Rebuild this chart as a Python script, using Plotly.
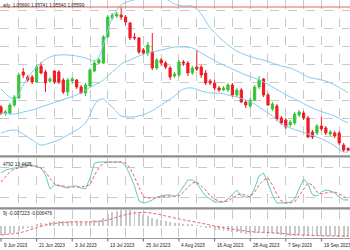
import plotly.graph_objects as go
import pandas as pd

# ---------------- data ----------------
dates = pd.bdate_range("2023-06-09", "2023-09-27")
bar_idx = list(range(len(dates)))

open_ = [1.0776,1.0746,1.0746,1.0786,1.0821,1.0951,1.0926,1.0926,1.0901,1.0981,
1.0951,1.0906,1.0956,1.0951,1.0911,1.0851,1.0906,1.0911,1.0876,1.0846,
1.0881,1.0956,1.0996,1.0996,1.1126,1.1221,1.1231,1.1236,1.1226,1.1196,
1.1126,1.1121,1.1061,1.1046,1.1051,1.0971,1.1011,1.0996,1.0971,1.0931,
1.0936,1.1001,1.0996,1.0946,1.0976,1.0976,1.0946,1.0906,1.0896,1.0871,
1.0861,1.0861,1.0886,1.0836,1.0861,1.0801,1.0781,1.0811,1.0876,1.0916,
1.0836,1.0766,1.0781,1.0721,1.0711,1.0686,1.0696,1.0736,1.0746,1.0721,
1.0651,1.0646,1.0681,1.0671,1.0641,1.0646,1.0646,1.0586,1.0569]
high = [1.0786,1.0761,1.0796,1.0836,1.0946,1.0971,1.0936,1.0936,1.0986,1.1001,
1.0961,1.0926,1.0961,1.0961,1.0921,1.0921,1.0926,1.0916,1.0886,1.0896,
1.0971,1.1011,1.1021,1.1136,1.1236,1.1246,1.1251,1.1276,1.1236,1.1201,
1.1146,1.1126,1.1071,1.1101,1.1146,1.1021,1.1021,1.1006,1.0981,1.0951,
1.1011,1.1011,1.1006,1.0981,1.1061,1.0986,1.0961,1.0916,1.0911,1.0881,
1.0881,1.0896,1.0896,1.0871,1.0871,1.0811,1.0821,1.0886,1.0931,1.0921,
1.0846,1.0801,1.0791,1.0731,1.0721,1.0711,1.0751,1.0761,1.0756,1.0731,
1.0661,1.0691,1.0726,1.0681,1.0661,1.0656,1.0656,1.0596,1.0574]
low = [1.0736,1.0731,1.0736,1.0776,1.0816,1.0921,1.0901,1.0891,1.0896,1.0941,
1.0851,1.0896,1.0891,1.0891,1.0841,1.0831,1.0891,1.0866,1.0841,1.0831,
1.0876,1.0951,1.0991,1.0991,1.1121,1.1211,1.1221,1.1211,1.1186,1.1111,
1.1111,1.1041,1.1036,1.1031,1.0961,1.0961,1.0981,1.0966,1.0911,1.0921,
1.0926,1.0981,1.0931,1.0936,1.0956,1.0921,1.0886,1.0886,1.0861,1.0851,
1.0856,1.0851,1.0826,1.0826,1.0796,1.0771,1.0771,1.0806,1.0866,1.0826,
1.0781,1.0756,1.0706,1.0686,1.0666,1.0676,1.0686,1.0726,1.0711,1.0621,
1.0616,1.0636,1.0656,1.0636,1.0631,1.0621,1.0586,1.0551,1.0554]
close = [1.0746,1.0751,1.0786,1.0826,1.0936,1.0936,1.0911,1.0901,1.0976,1.0946,
1.0896,1.0916,1.0901,1.0901,1.0851,1.0911,1.0916,1.0876,1.0846,1.0886,
1.0961,1.0996,1.1011,1.1126,1.1226,1.1236,1.1241,1.1226,1.1201,1.1121,
1.1121,1.1051,1.1046,1.1086,1.0971,1.1011,1.0996,1.0976,1.0926,1.0941,
1.1001,1.0996,1.0946,1.0971,1.0966,1.0936,1.0896,1.0896,1.0871,1.0861,
1.0871,1.0886,1.0836,1.0861,1.0801,1.0786,1.0811,1.0876,1.0911,1.0836,
1.0786,1.0791,1.0716,1.0696,1.0676,1.0701,1.0741,1.0751,1.0721,1.0626,
1.0626,1.0681,1.0666,1.0646,1.0651,1.0631,1.0596,1.0561,1.0560]

band_idx = [0,3,5,7,9,11,13,15,17,19,21,22,23,24,25,26,27,29,31,33,35,37,39,41,43,45,47,49,51,53,55,57,59,61,63,65,67,69,71,73,75,77,78]
bb_upper = [1.0866,1.0816,1.0886,1.0951,1.0996,1.1026,1.1036,1.1036,1.1031,1.1021,1.1006,1.1026,1.1086,1.1161,1.1221,1.1261,1.1286,1.1306,1.1316,1.1321,1.1321,1.1316,1.1291,1.1281,1.1281,1.1241,1.1171,1.1126,1.1086,1.1056,1.1036,1.1021,1.1011,1.0996,1.0981,1.0971,1.0951,1.0926,1.0916,1.0906,1.0886,1.0861,1.0846]
bb_middle = [1.0746,1.0741,1.0751,1.0761,1.0776,1.0791,1.0806,1.0821,1.0836,1.0861,1.0886,1.0896,1.0911,1.0931,1.0951,1.0971,1.0991,1.1011,1.1031,1.1046,1.1056,1.1066,1.1076,1.1076,1.1071,1.1046,1.1021,1.0996,1.0976,1.0956,1.0936,1.0921,1.0901,1.0876,1.0851,1.0826,1.0806,1.0781,1.0761,1.0746,1.0731,1.0706,1.0696]
bb_lower = [1.0646,1.0661,1.0641,1.0611,1.0586,1.0596,1.0611,1.0636,1.0661,1.0696,1.0786,1.0811,1.0816,1.0796,1.0776,1.0751,1.0731,1.0726,1.0731,1.0746,1.0771,1.0801,1.0831,1.0866,1.0871,1.0856,1.0846,1.0846,1.0836,1.0826,1.0811,1.0791,1.0761,1.0731,1.0691,1.0671,1.0656,1.0641,1.0626,1.0606,1.0581,1.0551,1.0551]
hline_price = 1.1276

stoch_main = [69.4,75.5,77.6,79.6,81.6,83.7,85.7,85.7,81.6,79.6,
65.3,36.7,44.9,44.9,40.8,38.8,42.9,42.9,38.8,36.7,
59.2,89.8,91.8,91.8,91.8,91.8,91.8,91.8,83.7,65.3,
42.9,12.2,8.2,10.2,14.3,20.4,22.4,24.5,24.5,20.4,
28.6,42.9,55.1,55.1,49.0,34.7,22.4,16.3,10.2,10.2,
10.2,16.3,24.5,34.7,22.4,20.4,20.4,38.8,63.3,69.4,
49.0,24.5,8.2,8.2,8.2,10.2,16.3,36.7,57.1,46.9,
24.5,22.4,30.6,34.7,32.7,28.6,20.4,14.3,14.5]
stoch_signal = [51.0,61.2,71.4,77.6,79.6,81.6,83.7,83.7,83.7,79.6,
71.4,59.2,46.9,42.9,42.9,40.8,40.8,40.8,40.8,42.9,
44.9,65.3,79.6,89.8,91.8,91.8,91.8,91.8,89.8,79.6,
61.2,38.8,20.4,18.4,18.4,18.4,20.4,22.4,22.4,22.4,
22.4,30.6,40.8,49.0,51.0,42.9,34.7,22.4,16.3,12.2,
10.2,12.2,18.4,24.5,26.5,24.5,20.4,30.6,44.9,55.1,
59.2,44.9,26.5,12.2,8.2,8.2,10.2,22.4,36.7,49.0,
44.9,30.6,26.5,28.6,30.6,30.6,26.5,22.4,13.4]
stoch_levels = [20, 80]

macd_main = [-0.0060,-0.0058,-0.0054,-0.0047,-0.0032,-0.0022,-0.0016,-0.0008,0.0008,0.0018,
0.0022,0.0026,0.0030,0.0032,0.0030,0.0031,0.0032,0.0030,0.0026,0.0025,
0.0030,0.0036,0.0042,0.0055,0.0075,0.0090,0.0100,0.0106,0.0107,0.0102,
0.0097,0.0085,0.0074,0.0068,0.0055,0.0048,0.0040,0.0033,0.0024,0.0019,
0.0018,0.0016,0.0010,0.0007,0.0004,-0.0002,-0.0010,-0.0016,-0.0023,-0.0028,
-0.0032,-0.0033,-0.0037,-0.0039,-0.0045,-0.0050,-0.0051,-0.0046,-0.0040,-0.0040,
-0.0043,-0.0045,-0.0052,-0.0058,-0.0064,-0.0065,-0.0062,-0.0058,-0.0057,-0.0063,
-0.0068,-0.0068,-0.0067,-0.0067,-0.0067,-0.0067,-0.0070,-0.0074,-0.0072]
sig_idx = [0,3,5,7,9,11,13,15,17,19,21,23,25,27,29,31,33,35,37,39,41,43,45,47,49,51,53,55,57,59,61,63,65,67,69,71,73,75,77,78]
macd_signal = [-0.0058,-0.0050,-0.0038,-0.0020,-0.0002,0.0012,0.0020,0.0025,0.0027,0.0027,0.0028,0.0033,0.0048,0.0066,0.0080,0.0088,0.0087,0.0078,0.0065,0.0052,0.0040,0.0030,0.0018,0.0006,-0.0006,-0.0016,-0.0025,-0.0033,-0.0039,-0.0042,-0.0044,-0.0048,-0.0054,-0.0058,-0.0060,-0.0062,-0.0064,-0.0065,-0.0065,-0.0065]

label_idx = [0, 8, 16, 24, 32, 40, 48, 56, 64, 72]
date_labels = ["9 Jun 2023", "21 Jun 2023", "3 Jul 2023", "13 Jul 2023", "25 Jul 2023",
               "4 Aug 2023", "16 Aug 2023", "28 Aug 2023", "7 Sep 2023", "19 Sep 2023"]
grid_idx = list(range(0, 79, 4))
price_grid = [1.0630, 1.0720, 1.0810, 1.0900, 1.0990, 1.1080, 1.1170, 1.1260]

# texts exactly as visible in the (cropped) reference
title_text = "aily  1.05690 1.05741 1.05540 1.05599"
stoch_text = "4792 13.4405"
macd_text = "9) -0.007223 -0.006476"

# ---------------- figure ----------------
W, H = 350, 250
def py(px):  # pixel from top -> paper y
    return 1 - px / H

FONT = "Liberation Sans"
RED = "#EE1C25"
GREEN = "#35C435"
BLUE = "#86CCF2"
GRIDC = "#C9C9C9"

fig = go.Figure()

fig.add_trace(go.Candlestick(
    x=bar_idx, open=open_, high=high, low=low, close=close,
    increasing=dict(line=dict(color=GREEN, width=1), fillcolor=GREEN),
    decreasing=dict(line=dict(color=RED, width=1), fillcolor=RED),
    whiskerwidth=0, xaxis="x", yaxis="y", showlegend=False))

for arr in (bb_upper, bb_middle, bb_lower):
    fig.add_trace(go.Scatter(x=band_idx, y=arr, mode="lines", line=dict(color=BLUE, width=1, shape="spline"),
                             xaxis="x", yaxis="y", showlegend=False))

fig.add_trace(go.Scatter(x=bar_idx, y=stoch_main, mode="lines", line=dict(color="#5FCDC0", width=1),
                         xaxis="x2", yaxis="y2", showlegend=False))
fig.add_trace(go.Scatter(x=bar_idx, y=stoch_signal, mode="lines", line=dict(color="#F06060", width=1, dash="3px,2px"),
                         xaxis="x2", yaxis="y2", showlegend=False))

fig.add_trace(go.Bar(x=bar_idx, y=macd_main, marker=dict(color="#C8C8C8", line=dict(width=0)), width=0.22,
                     xaxis="x3", yaxis="y3", showlegend=False))
fig.add_trace(go.Scatter(x=sig_idx, y=macd_signal, mode="lines", line=dict(color="#F06060", width=1, dash="3px,2px", shape="spline"),
                         xaxis="x3", yaxis="y3", showlegend=False))

xr = [-0.225, 78.43]
xcommon = dict(range=xr, showticklabels=False, zeroline=False, showline=False, showgrid=True,
               tickmode="array", tickvals=grid_idx, gridcolor=GRIDC, griddash="dash", gridwidth=1,
               rangeslider=dict(visible=False), fixedrange=True)

fig.update_layout(
    width=W, height=H, margin=dict(l=0, r=0, t=0, b=0),
    paper_bgcolor="white", plot_bgcolor="white",
    xaxis=dict(**xcommon, anchor="y"),
    xaxis2=dict(**xcommon, anchor="y2", matches="x"),
    xaxis3=dict(**xcommon, anchor="y3", matches="x"),
    yaxis=dict(domain=[py(155), 1], range=[1.0536, 1.1311], showticklabels=False, zeroline=False,
               tickmode="array", tickvals=price_grid, gridcolor=GRIDC, griddash="dash"),
    yaxis2=dict(domain=[py(207), py(158)], range=[0, 100], showticklabels=False, zeroline=False,
                tickmode="array", tickvals=stoch_levels, gridcolor=GRIDC, griddash="dash"),
    yaxis3=dict(domain=[py(238), py(210)], range=[-0.0078, 0.0104], showticklabels=False, zeroline=False,
                showgrid=False),
    bargap=0, showlegend=False,
)

shapes = [
    dict(type="line", xref="paper", x0=0, x1=1, yref="y", y0=hline_price, y1=hline_price,
         line=dict(color="#E06464", width=1)),
    dict(type="rect", xref="paper", x0=0, x1=1, yref="paper", y0=py(157.5), y1=py(155.3),
         fillcolor="#8E8E8E", line=dict(width=0)),
    dict(type="rect", xref="paper", x0=0, x1=1, yref="paper", y0=py(209.5), y1=py(207.3),
         fillcolor="#8E8E8E", line=dict(width=0)),
    dict(type="line", xref="paper", x0=0, x1=1, yref="paper", y0=py(238.5), y1=py(238.5),
         line=dict(color="#9A9A9A", width=1)),
]
for i in label_idx:
    shapes.append(dict(type="line", xref="x3", x0=i, x1=i, yref="paper", y0=py(238.5), y1=py(241.5),
                       line=dict(color="#666666", width=1)))
fig.update_layout(shapes=shapes)

ann = []
ann.append(dict(text=title_text, xref="paper", yref="paper", x=0.5 / W, y=py(5), xanchor="left", yanchor="middle",
                showarrow=False, font=dict(family=FONT, size=4.7, color="#222222")))
ann.append(dict(text=stoch_text, xref="paper", yref="paper", x=0.5 / W, y=py(164), xanchor="left", yanchor="middle",
                showarrow=False, font=dict(family=FONT, size=4.7, color="#222222")))
ann.append(dict(text=macd_text, xref="paper", yref="paper", x=0.5 / W, y=py(213.5), xanchor="left", yanchor="middle",
                showarrow=False, font=dict(family=FONT, size=4.7, color="#222222")))
for i, t in zip(label_idx, date_labels):
    ann.append(dict(text=t, xref="x3", yref="paper", x=i, y=py(245), xanchor="left", yanchor="middle",
                    xshift=0.5, showarrow=False, font=dict(family=FONT, size=4.7, color="#222222")))
fig.update_layout(annotations=ann)

fig.write_html("out.html", config=dict(displayModeBar=False))
